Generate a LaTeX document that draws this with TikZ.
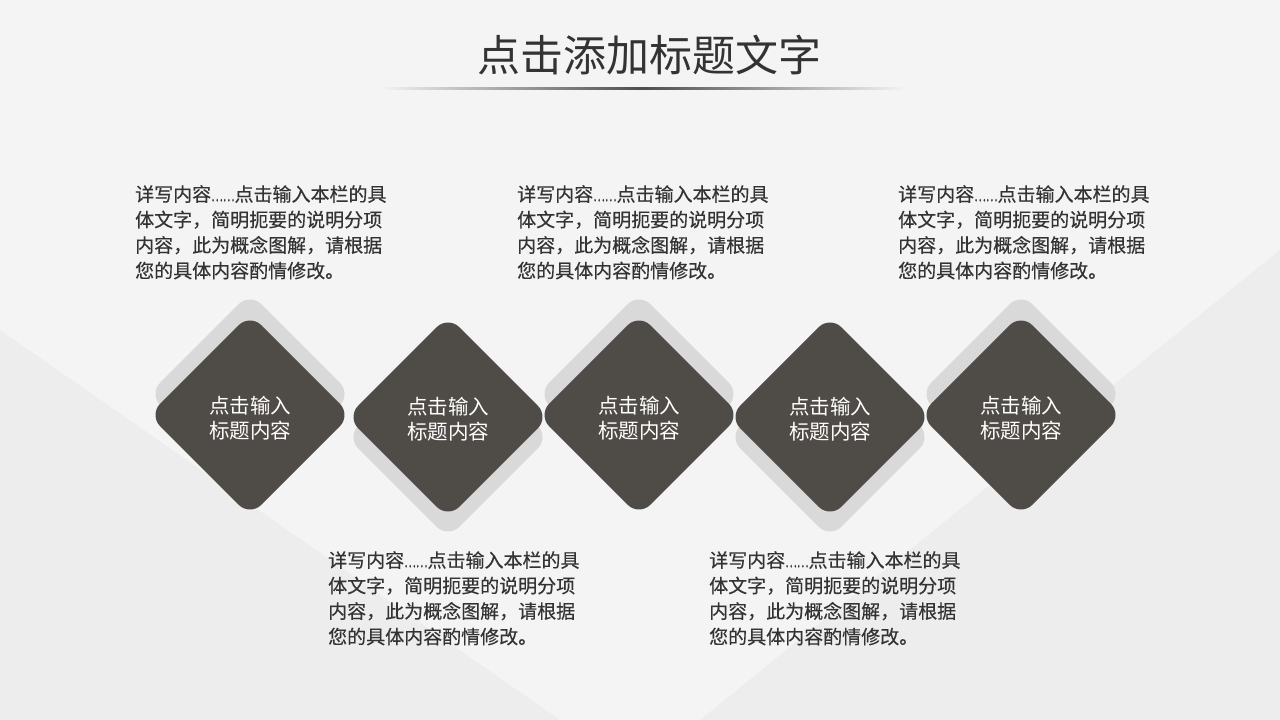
\documentclass[tikz,border=0pt]{standalone}
\usepackage{fontspec}
\usepackage{graphicx}
\setmainfont{Noto Sans CJK SC}
\newfontfamily\detailfont{Noto Sans CJK SC}[FakeBold=0.35]
\definecolor{boxdark}{HTML}{4F4B46}
\definecolor{boxshade}{HTML}{D9D9D9}
\definecolor{bgpaper}{HTML}{F4F4F4}
\definecolor{bgfold}{HTML}{EDEDED}
\definecolor{bodygray}{HTML}{333333}
\definecolor{titlegray}{HTML}{333333}
\tikzset{
	diamondbox/.style={rectangle, rotate=45, rounded corners=16pt, minimum size=143pt, inner sep=0pt, fill=boxdark},
	diamondshade/.style={diamondbox, fill=boxshade},
	diamondtext/.style={text=white, align=center, inner sep=0pt, font=\fontsize{20.5pt}{25pt}\selectfont},
	bodytext/.style={anchor=north west, inner sep=0pt, align=left, text=bodygray, font=\detailfont\fontsize{19pt}{25.5pt}\selectfont}
}
\def\detailtext{详写内容\scalebox{0.58}[1]{……}点击输入本栏的具\\体文字，简明扼要的说明分项\\内容，此为概念图解，请根据\\您的具体内容酌情修改。}

\begin{document}
\begin{tikzpicture}[x=1pt, y=-1pt]
			%%%%% START %%%%%
			
			\fill[bgpaper] (0, 0) rectangle (1280, 720);
			\fill[bgfold] (0, 330) -- (560, 720) -- (0, 720) -- cycle;
			\fill[bgfold] (1280, 250) -- (700, 720) -- (1280, 720) -- cycle;
			
			\node[text=titlegray, font=\fontsize{43pt}{50pt}\selectfont] (title) at (649, 55) {点击添加标题文字};
			\shade[left color=bgpaper, right color=bgpaper, middle color=black!70] (380, 87) rectangle (905, 89.5);
			
			\node[diamondshade] (s1) at (250, 394) {};
			\node[diamondshade] (s2) at (448, 437) {};
			\node[diamondshade] (s3) at (639, 394) {};
			\node[diamondshade] (s4) at (830, 437) {};
			\node[diamondshade] (s5) at (1021, 394) {};
			
			\node[diamondbox] (d1) at (250, 415) {};
			\node[diamondbox] (d2) at (448, 417) {};
			\node[diamondbox] (d3) at (639, 415) {};
			\node[diamondbox] (d4) at (830, 417) {};
			\node[diamondbox] (d5) at (1021, 415) {};
			
			\node[diamondtext, yshift=-3pt] (k1) at (d1) {点击输入\\标题内容};
			\node[diamondtext, yshift=-2pt] (k2) at (d2) {点击输入\\标题内容};
			\node[diamondtext, yshift=-3pt] (k3) at (d3) {点击输入\\标题内容};
			\node[diamondtext, yshift=-2pt] (k4) at (d4) {点击输入\\标题内容};
			\node[diamondtext, yshift=-3pt] (k5) at (d5) {点击输入\\标题内容};
			
			\node[bodytext] (p1) at (135, 185) {\detailtext};
			\node[bodytext] (p3) at (517, 185) {\detailtext};
			\node[bodytext] (p5) at (898, 185) {\detailtext};
			\node[bodytext] (p2) at (328, 551) {\detailtext};
			\node[bodytext] (p4) at (709, 551) {\detailtext};
			
			%%%%% END %%%%%
\end{tikzpicture}
\end{document}
